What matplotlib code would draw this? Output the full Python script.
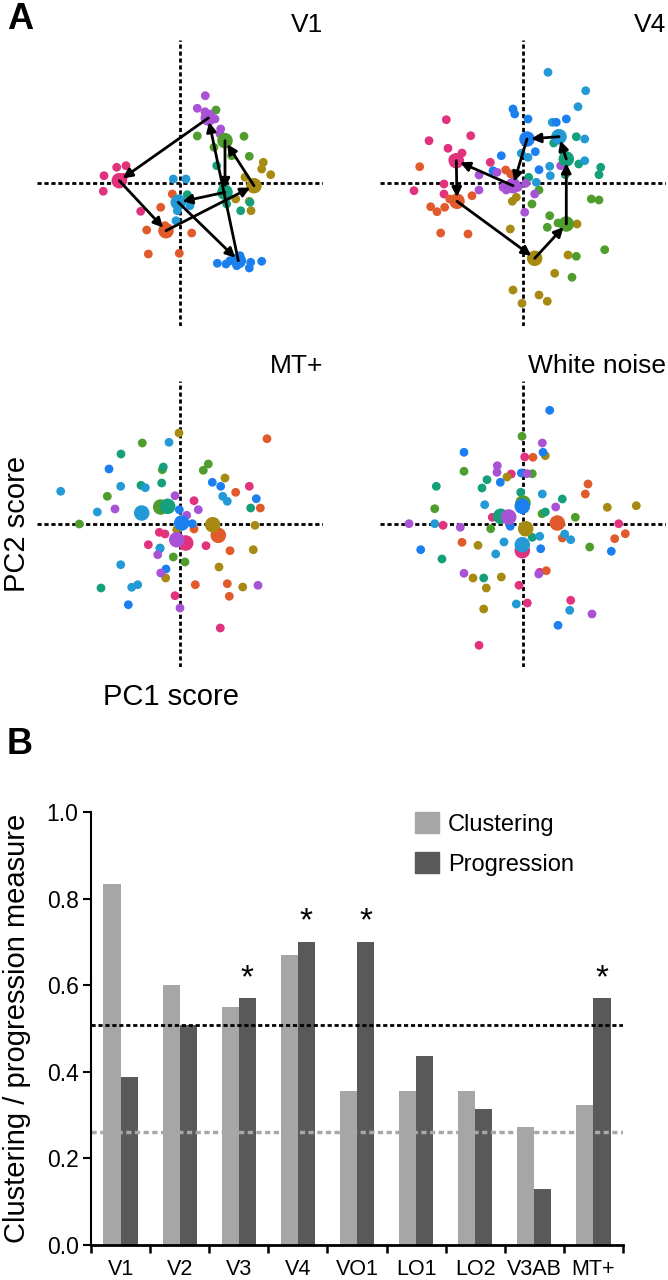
import numpy as np
import matplotlib.pyplot as plt
from matplotlib.patches import Patch

plt.rcParams['font.family'] = ['Liberation Sans', 'DejaVu Sans']

# hue order: pink, orange, olive, green, teal, cyan, blue, purple
hues = ['#e2317d', '#e05a2b', '#a68a12', '#4f9e2d', '#15a07b', '#2399d6', '#1b7ff0', '#a852d6']

# ---- panel A: V1 ----
v1_cx = [-6.07, -1.4, 7.4, 4.5, 4.5, -0.17, 5.83, 2.83]
v1_cy = [0.23, -4.77, -0.27, 4.23, -0.93, -1.93, -7.77, 6.5]
v1_px = [[-6.33, -5.4, -7.6, -7.67, -3.93, -5.67],
         [-0.77, -1.93, -3.33, -3.17, -0.07, 1.17, -1.5],
         [8.33, 8.17, 9.07, 6.5, 5.57, 6.93, 7.1],
         [3.6, 1.73, 6.4, 3.4, 5.17, 6.93],
         [0.73, 3.67, 4.67, 6.07, 7.0, 4.33, 4.67],
         [-0.67, 0.6, 1.0, -0.4, -0.27, -0.07],
         [3.73, 4.6, 5.0, 6.0, 6.93, 7.07, 8.17, 5.67],
         [2.53, 1.73, 2.5, 3.5, 4.07, 4.0, 3.0]]
v1_py = [[1.57, 1.73, 0.73, -0.83, -2.83, 0.57],
         [-1.1, -2.43, -4.7, -7.1, -7.03, -5.0, -4.27],
         [2.07, 1.4, 0.83, 0.57, -1.6, -1.83, -2.77],
         [7.3, 4.7, 4.67, 3.57, 2.73, 2.67],
         [-1.17, 1.73, -2.1, -2.77, -1.93, -0.43, -1.43],
         [0.4, 0.4, -2.27, -3.77, -2.77, -1.6],
         [-8.03, -8.1, -7.77, -7.27, -8.5, -7.93, -7.83, -8.27],
         [8.73, 7.47, 7.13, 6.4, 5.4, 4.9, 6.9]]

# ---- panel A: V4 ----
v4_cx = [-6.67, -6.6, 1.17, 4.33, 4.33, 3.6, 0.4, -1.0]
v4_cy = [2.23, -1.83, -7.53, -4.1, 2.4, 4.63, 4.4, -0.27]
v4_px = [[-7.67, -9.4, -5.23, -7.5, -6.1, -7.9, -10.9, -7.9, -3.27, -7.0],
         [-10.33, -5.1, -9.23, -8.6, -7.83, -8.23, -5.5, -1.73, -1.23, -7.33],
         [-1.07, -0.67, -1.27, 4.5, 3.17, -1.0, -0.1, 1.6, 2.43, 5.4],
         [1.6, 0.9, 2.67, 2.43, 3.5, 6.83, 7.6, 8.17, 5.33, 4.9],
         [5.33, 3.07, 4.0, 5.57, 7.77, 7.6, 4.23, 0.57],
         [2.5, 6.27, 5.5, 2.93, 6.17, 6.17, 2.67, 2.73, 1.33, -0.17, 0.5],
         [-1.0, -0.83, 0.5, 4.33, -2.17, 1.23, 1.6, -3.0, 3.33],
         [-4.4, -2.6, -4.4, -2.0, 0.27, 1.17, 0.17, 3.77, -1.67, -0.5]]
v4_py = [[6.33, 4.23, 4.73, 3.47, 3.0, -0.1, -0.77, -1.1, 2.07, 2.4],
         [1.63, -1.27, -2.37, -2.87, -2.43, -5.0, -5.1, 1.3, 0.9, -1.6],
         [-1.83, -1.43, -4.6, -7.2, -9.03, -10.7, -12.03, -11.2, -11.83, -4.1],
         [-0.7, -2.1, -3.27, -4.43, -4.0, -1.6, -1.7, -6.67, -7.33, -9.43],
         [4.63, 4.0, 3.23, 1.9, 1.57, 0.83, 0.83, 0.57],
         [11.07, 9.23, 7.63, 6.07, 4.4, 2.23, 1.67, 0.73, 0.07, 2.97, 2.57],
         [7.4, 6.9, 6.4, 6.4, 2.73, 3.13, 1.33, 1.23, 6.07],
         [0.8, 1.07, -0.7, -0.43, -0.03, -1.1, -2.93, 1.73, -0.7, -0.43]]

# ---- panel A: MT+ ----
mt_cx = [0.57, 3.83, 3.27, -1.93, -1.23, -3.83, 0.17, -0.33]
mt_cy = [-1.9, -1.13, -0.07, 1.7, 1.77, 1.1, 0.1, -1.57]
mt_px = [[1.4, 6.93, -3.17, 2.6, -0.5, 4.03, -2.07, -1.5],
         [8.7, 5.57, 8.03, 1.4, 5.0, 1.53, 4.73, 4.93],
         [-0.1, 4.5, 7.5, 7.33, 3.9, 6.27, -1.43, -0.33],
         [-3.77, 2.83, 2.33, -1.77, -7.27, -10.07, -0.67, 0.5],
         [-5.9, -1.67, -3.9, -1.83, 7.07, -7.9, -2.0],
         [-1.1, -11.93, -5.93, -3.47, -8.27, 4.27, 4.73, -5.93, -4.23, -2.0, -4.83],
         [-7.1, 3.23, 4.07, 7.63, -1.4, -5.17, -0.07, 1.23],
         [-0.5, -6.5, 1.83, -1.93, 0.0, 7.8, -2.23, 0.67]]
mt_py = [[2.33, 3.77, -2.07, -2.17, -7.17, -10.4, -0.83, -1.0],
         [8.53, 3.17, 1.6, -0.5, -2.67, -6.07, -5.97, -7.23],
         [9.1, 4.6, -0.13, -2.57, -4.3, -6.3, -5.4, -0.57],
         [8.1, 6.0, 5.37, 5.43, 2.77, 0.0, -3.3, -3.8],
         [7.0, 5.7, 3.87, 4.1, 1.6, -6.4, -2.4],
         [8.17, 3.27, 3.77, 3.63, 1.2, 2.77, 2.27, -4.07, -6.07, -2.47, -6.33],
         [5.5, 4.17, 3.77, 2.53, -4.5, -8.07, 1.43, 0.03],
         [2.83, 1.5, 1.43, -4.9, -8.4, -6.13, -3.07, 0.87]]

# ---- panel A: white noise ----
wn_cx = [-0.07, 3.43, 0.27, 0.0, -2.23, -0.07, -0.07, -1.43]
wn_cy = [-2.67, 0.1, -0.47, 2.1, 0.77, -2.07, 1.77, 0.7]
wn_px = [[0.17, -1.17, -3.07, -8.0, 9.57, -0.4, 0.43, 4.77, -4.4, 1.67],
         [1.0, 6.5, 6.23, -6.1, 3.93, 9.17, 10.23, 2.33],
         [2.23, -1.6, 8.43, 11.33, -4.5, -5.0, -2.17, -3.67, -3.93],
         [-0.1, -5.9, 0.93, -8.83, 1.9, 5.23, -3.23, 6.67],
         [-3.6, -4.1, -8.67, -0.23, 3.93, 2.23, -8.1, -3.93, 0.93],
         [1.93, -3.83, -8.83, -1.9, -2.73, 1.67, 4.17, 4.77, -0.67, 4.67],
         [2.67, -5.9, 2.0, -0.17, -2.27, -10.23, 1.77, 8.83, 3.5, -1.27],
         [1.93, -2.57, -2.6, 0.4, 3.27, -11.4, -6.27, -5.9, 1.57, 6.9]]
wn_py = [[6.7, 5.0, 0.67, -0.13, 0.03, -6.13, -7.9, -7.63, -12.13, -4.83],
         [6.67, 4.0, 3.0, -1.83, -1.4, -1.47, -0.97, -4.67],
         [6.83, 4.7, 1.67, 1.83, -2.13, -5.4, -5.3, -6.4, -8.5],
         [8.77, 5.27, 5.03, 1.53, 1.03, 0.67, -0.47, -2.3],
         [4.43, 3.6, 3.77, 3.17, 2.5, 1.2, -3.5, -5.4, -1.33],
         [3.0, 1.93, 0.03, -1.8, -3.0, -1.23, -1.0, -1.57, -8.0, -8.63],
         [11.37, 7.17, 7.17, 5.1, 4.17, -2.57, -2.47, -2.73, -10.13, -0.23],
         [8.1, 5.83, 5.17, 5.03, 1.7, 0.03, -0.33, -4.93, -5.0, -9.0]]

# ---- panel B ----
areas = ['V1', 'V2', 'V3', 'V4', 'VO1', 'LO1', 'LO2', 'V3AB', 'MT+']
clustering = [0.833, 0.60, 0.55, 0.67, 0.355, 0.355, 0.355, 0.273, 0.323]
progression = [0.388, 0.508, 0.57, 0.70, 0.70, 0.437, 0.313, 0.13, 0.57]
progression_crit = 0.508
clustering_crit = 0.26
significant = ['V3', 'V4', 'VO1', 'MT+']

W, H = 668, 1280
fig = plt.figure(figsize=(W / 100, H / 100), dpi=100)

dots = (0, (1.5, 1.0))


def scatter_panel(rect, title, px, py, cx, cy, arrows):
    ax = fig.add_axes(rect)
    ax.set_xlim(-14.3, 14.3)
    ax.set_ylim(-14.3, 14.3)
    ax.axis('off')
    ax.axhline(0, color='k', lw=2, ls=dots, zorder=1)
    ax.axvline(0, color='k', lw=2, ls=dots, zorder=1)
    for i, col in enumerate(hues):
        ax.scatter(px[i], py[i], s=40, color=col, edgecolors='none', zorder=2)
    for i, col in enumerate(hues):
        ax.scatter(cx[i], cy[i], s=125, color=col, edgecolors='none', zorder=3)
    if arrows:
        n = len(cx)
        for i in range(n):
            j = (i + 1) % n
            ax.annotate('', xy=(cx[j], cy[j]), xytext=(cx[i], cy[i]),
                        arrowprops=dict(arrowstyle='-|>', color='k', lw=2,
                                        shrinkA=0, shrinkB=3, mutation_scale=14),
                        zorder=4)
    ax.set_title(title, loc='right', fontsize=19, pad=6)
    return ax


aw, ah = 286 / W, 286 / H
scatter_panel([37 / W, 1 - 326 / H, aw, ah], 'V1', v1_px, v1_py, v1_cx, v1_cy, True)
scatter_panel([380 / W, 1 - 326 / H, aw, ah], 'V4', v4_px, v4_py, v4_cx, v4_cy, True)
scatter_panel([37 / W, 1 - 667 / H, aw, ah], 'MT+', mt_px, mt_py, mt_cx, mt_cy, False)
scatter_panel([380 / W, 1 - 667 / H, aw, ah], 'White noise', wn_px, wn_py, wn_cx, wn_cy, False)

fig.text(17 / W, 1 - 524 / H, 'PC2 score', rotation=90, ha='center', va='center', fontsize=21)
fig.text(171 / W, 1 - 697 / H, 'PC1 score', ha='center', va='center', fontsize=21)
fig.text(7 / W, 1 - 2 / H, 'A', fontsize=26, fontweight='bold', va='top', ha='left')
fig.text(7 / W, 1 - 745 / H, 'B', fontsize=26, fontweight='bold', va='center', ha='left')

# bar chart
ax = fig.add_axes([91 / W, 1 - 1245 / H, (623 - 91) / W, (1245 - 812) / H])
x = np.arange(len(areas))
bw = 0.29
ax.bar(x - bw / 2, clustering, bw, color='#a6a6a6', label='Clustering')
ax.bar(x + bw / 2, progression, bw, color='#595959', label='Progression')
ax.axhline(progression_crit, color='k', lw=2, ls=dots)
ax.axhline(clustering_crit, color='#a8a8a8', lw=2.5, ls=dots)
for name in significant:
    k = areas.index(name)
    ax.text(k + bw / 2, progression[k] + 0.01, '*', ha='center', va='bottom', fontsize=24)

ax.set_xlim(-0.5, len(areas) - 0.5)
ax.set_ylim(0, 1.0)
ax.set_yticks(np.arange(0, 1.01, 0.2))
ax.set_yticklabels(['0.0', '0.2', '0.4', '0.6', '0.8', '1.0'])
ax.set_xticks(x)
ax.set_xticklabels(areas)
ax.set_xticks(np.arange(-0.5, len(areas)), minor=True)
ax.tick_params(axis='x', which='major', length=0, pad=10, labelsize=15.5)
ax.tick_params(axis='x', which='minor', length=6, width=1.8)
ax.tick_params(axis='y', length=6, width=1.5, pad=3, labelsize=16.5)
for side in ['top', 'right']:
    ax.spines[side].set_visible(False)
ax.spines['left'].set_linewidth(1.5)
ax.spines['bottom'].set_linewidth(2)

fig.text(17 / W, 1 - 1028 / H, 'Clustering / progression measure', rotation=90,
         ha='center', va='center', fontsize=21)

handles = [Patch(color='#a6a6a6', label='Clustering'), Patch(color='#595959', label='Progression')]
fig.legend(handles=handles, loc='upper left', bbox_to_anchor=(415 / W, 1 - 812 / H),
           frameon=False, fontsize=17, handlelength=1.0, handleheight=1.0,
           handletextpad=0.4, labelspacing=0.7, borderpad=0, borderaxespad=0)

fig.savefig('out.png', dpi=100)
